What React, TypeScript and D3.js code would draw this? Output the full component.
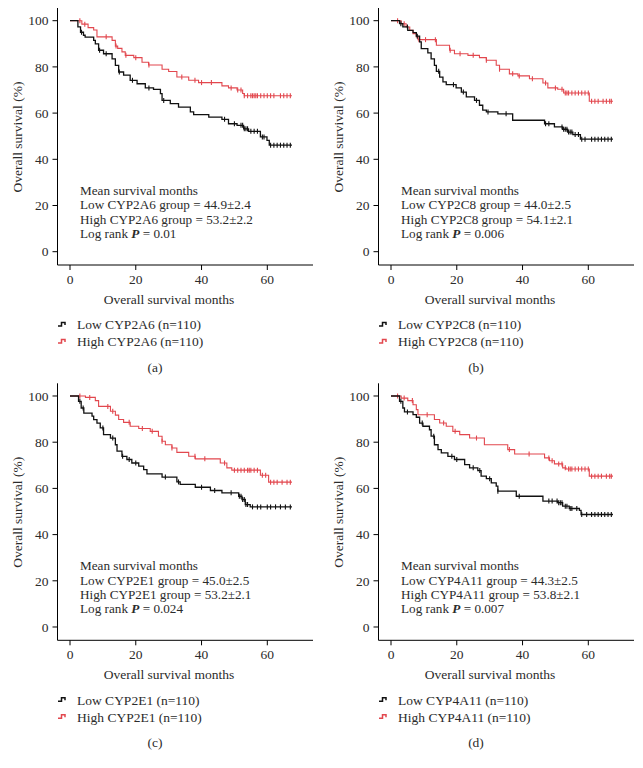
import { useEffect, useRef } from "react";
import * as d3 from "d3";

type Step = [number, number]; // [month, survival %] after a drop

const xTicks = [0, 20, 40, 60];
const yTicks = [0, 20, 40, 60, 80, 100];
const endMonth = 67.5;

// (a) CYP2A6
const lowA: Step[] = [[0, 100], [2.4, 97.3], [3.2, 95], [4.1, 93.7], [4.6, 92.9], [7.2, 91.5], [7.7, 90], [8.7, 87.2], [10.2, 85.7], [12.8, 83.5], [13.8, 80.7], [14.8, 77.8], [16.3, 76.4], [18.3, 74.2], [20.4, 72.7], [22.9, 70.9], [25.4, 70.3], [27.5, 68.4], [28, 65.5], [30.5, 64.1], [33, 62.6], [36.6, 60.5], [37.6, 59.3], [42.2, 58.3], [46.2, 57.3], [48.2, 55.4], [50.8, 54.7], [52.8, 53.2], [54.3, 52.1], [57.9, 49.7], [59.9, 48.2], [60.6, 46.1]];
const highA: Step[] = [[0, 100], [3.6, 98.5], [5.5, 97], [7.2, 96], [8.2, 93], [12.8, 91.5], [13.8, 89], [14.5, 88], [15.8, 86.5], [16.8, 85], [19.4, 84], [21.9, 82], [23.9, 80.8], [28, 79], [30, 78], [32.5, 75.6], [36.1, 74.2], [39.1, 73.2], [46.2, 71.8], [48.2, 70.9], [50.8, 70], [52.5, 68.5], [53, 67.5]];
const lowACensor = [3.5, 9, 11, 15, 19, 24, 28.5, 47, 50, 52, 52.5, 53, 53.5, 54, 55, 56, 57, 58.5, 59, 61, 62, 63, 64, 65, 66, 67];
const highACensor = [3, 4.5, 11, 14, 17, 20, 24, 34, 38, 40, 43, 49, 51, 52, 53, 54, 55, 55.5, 56, 56.5, 57, 58, 59, 60, 61, 62, 64, 65, 66, 67];

// (b) CYP2C8
const lowB: Step[] = [[0, 100], [2.6, 98.7], [3.6, 97.3], [5.1, 95.8], [6.7, 94.8], [7.7, 93.3], [8.7, 90.8], [9.2, 87.9], [11.2, 86.1], [12.2, 83.5], [13.2, 80.7], [13.8, 78.1], [14.8, 75.6], [15.8, 73.5], [16.8, 72.3], [19.8, 70.9], [21.4, 69.1], [22.9, 67], [25.4, 65.5], [26.9, 63.4], [27.9, 61.3], [29, 60.5], [32.5, 59.7], [37, 56.9], [46.7, 55.4], [49.7, 54], [52.2, 53], [53.7, 51.8], [55.3, 50.7], [57.6, 48.7]];
const highB: Step[] = [[0, 100], [3.1, 98.7], [4.6, 97.3], [5.7, 95.8], [6.7, 94.4], [7.7, 93], [8.2, 91.8], [13.8, 89.4], [17.8, 87.2], [19.3, 85.7], [23.4, 85], [26.9, 84], [29, 82.9], [32, 80.7], [33, 79], [36, 77], [38.6, 76.1], [42.1, 74.9], [46.2, 73], [47.7, 70.9], [50.7, 70.3], [52.5, 68.7], [60.3, 65.1]];
const lowBCensor = [3, 5, 8, 14.5, 19, 22, 26, 29.5, 35, 47, 48, 52, 52.5, 53, 53.5, 54, 54.5, 55, 56, 57, 58, 59, 61, 62, 63, 64, 65, 66, 67];
const highBCensor = [2, 4, 8.5, 10.5, 13.5, 18, 21, 25, 29, 33, 37, 39, 43, 47, 50, 52, 53, 53.5, 54, 55, 56, 57, 58, 59, 60, 61, 62, 63, 64.5, 65.5, 66.5, 67];

// (c) CYP2E1
const lowC: Step[] = [[0, 100], [2.6, 97.7], [3.4, 94.8], [4.2, 92.6], [6.7, 91.3], [7.2, 89.8], [8.2, 88.3], [9.2, 86.2], [10.2, 83.3], [12.3, 81.8], [13.8, 78.9], [14.3, 76.1], [15.8, 73.9], [17.3, 72.5], [18.8, 71], [20.9, 69.6], [22.4, 68.1], [23.4, 66.3], [28, 64.9], [32.5, 62.8], [33.5, 61.7], [38.1, 60.5], [42.7, 59.1], [46.2, 58.1], [51.3, 56.6], [52.3, 55.2], [53.3, 53], [54.8, 52]];
const highC: Step[] = [[0, 100], [4.7, 99.4], [7.7, 98], [8.7, 95.5], [12.3, 93.4], [13.8, 91.7], [14.8, 89.8], [16.3, 88.6], [18.3, 86.9], [20.9, 85.9], [24.4, 84.7], [26.9, 82.6], [28, 80.4], [29, 78.9], [31, 77.5], [32.5, 75.6], [36.1, 73.9], [38.1, 72.8], [45.7, 71], [47.7, 68.9], [49.2, 67.9], [57.9, 65.7], [60.4, 62.7]];
const lowCCensor = [3, 4, 10, 13, 16, 18, 20, 29, 33, 40, 44, 49, 51.5, 52, 52.5, 53, 53.5, 54, 55.5, 57, 58, 60, 61, 62.5, 64, 65.5, 67];
const highCCensor = [3, 6, 11.5, 13, 18, 22, 25, 28, 31, 38, 41, 47, 50, 51, 52, 53, 54, 54.5, 55, 56, 57, 58.5, 59.5, 61, 62, 63, 64.5, 66, 67];

// (d) CYP4A11
const lowD: Step[] = [[0, 100], [2.6, 97.7], [3.6, 94.8], [4.1, 93.1], [6.7, 91.9], [7.7, 90.8], [8.7, 88.3], [9.7, 86.9], [11.7, 85.4], [12.2, 82.6], [13.2, 78.9], [14.3, 76.8], [15.3, 75.4], [17.3, 73.9], [19.3, 72.5], [22.4, 70.3], [23.9, 68.9], [26.4, 67.7], [27.4, 65.3], [29, 64.2], [30.5, 62.4], [32, 61], [32.5, 58.8], [38.1, 56.6], [46.2, 54.5], [50.7, 53.8], [52.2, 52.3], [54.2, 51.3], [57.3, 50.5], [57.8, 48.7]];
const highD: Step[] = [[0, 100], [3.1, 99.1], [5.1, 98], [6.7, 96.2], [7.7, 94.1], [8.2, 91.9], [13.2, 89.8], [14.8, 88.3], [16.8, 86.9], [18.8, 84.7], [20.9, 83.3], [23.9, 81.8], [28.4, 78.9], [35.5, 76.8], [37.6, 74.9], [46.7, 73.2], [48.2, 72], [49.7, 70.6], [52.2, 68.9], [53.2, 68.4], [60.3, 65.3]];
const lowDCensor = [3, 5, 9.5, 13, 18.5, 20, 25, 27, 30, 32.5, 39, 48, 49, 50.5, 51, 51.5, 52, 53, 53.5, 54.5, 55, 56.5, 58, 59.5, 61, 62, 63, 64, 65, 66, 67];
const highDCensor = [2, 4, 6.5, 11, 16, 19.5, 26, 36, 42, 48, 49, 51, 52, 53, 54, 54.5, 55, 56, 57, 58, 59, 60, 61, 62, 63, 64, 65.5, 66.5, 67];

const geneNames = ["CYP2A6", "CYP2C8", "CYP2E1", "CYP4A11"];
const lowMeans = ["44.9±2.4", "44.0±2.5", "45.0±2.5", "44.3±2.5"];
const highMeans = ["53.2±2.2", "54.1±2.1", "53.2±2.1", "53.8±2.1"];
const pValues = ["0.01", "0.006", "0.024", "0.007"];
const captions = ["(a)", "(b)", "(c)", "(d)"];

const RED = "#e2474e";
const BLACK = "#111";
const TEXT = "#2b2b2b";
const FONT = "'Liberation Serif', 'Times New Roman', serif";

function survivalAt(steps: Step[], t: number) {
  let v = steps[0][1];
  for (const s of steps) if (s[0] <= t) v = s[1];
  return v;
}

type PanelProps = {
  dx: number;
  dy: number;
  idx: number;
  low: Step[];
  high: Step[];
  lowCensor: number[];
  highCensor: number[];
};

function Panel({ dx, dy, idx, low, high, lowCensor, highCensor }: PanelProps) {
  const x = d3.scaleLinear().domain([0, 60]).range([70, 267.3]);
  const y = d3.scaleLinear().domain([0, 100]).range([251.7, 20.7]);
  const axisY = 265;
  const axisX = 57.5;

  const line = d3
    .line<Step>()
    .x((d) => x(d[0]))
    .y((d) => y(d[1]))
    .curve(d3.curveStepAfter);

  const withEnd = (s: Step[]): Step[] => [...s, [endMonth, s[s.length - 1][1]]];

  const curves = [
    { steps: high, censor: highCensor, color: RED, w: 1.1 },
    { steps: low, censor: lowCensor, color: BLACK, w: 1.3 },
  ];

  const gene = geneNames[idx];

  return (
    <g transform={`translate(${dx},${dy})`} fontFamily={FONT} fill={TEXT}>
      {/* axes */}
      <line x1={axisX} x2={axisX} y1={8} y2={axisY} stroke="#000" strokeWidth={1} />
      <line x1={axisX} x2={313} y1={axisY} y2={axisY} stroke="#000" strokeWidth={1} />
      {yTicks.map((t) => (
        <g key={"y" + t}>
          <line x1={axisX - 5} x2={axisX} y1={y(t)} y2={y(t)} stroke="#000" />
          <text x={48.5} y={y(t)} dy="0.35em" textAnchor="end" fontSize={13.5}>
            {t}
          </text>
        </g>
      ))}
      {xTicks.map((t) => (
        <g key={"x" + t}>
          <line x1={x(t)} x2={x(t)} y1={axisY} y2={axisY + 5} stroke="#000" />
          <text x={x(t)} y={283.5} textAnchor="middle" fontSize={13.5}>
            {t}
          </text>
        </g>
      ))}
      <text x={169} y={303.5} textAnchor="middle" fontSize={13.5}>
        Overall survival months
      </text>
      <text
        transform={`translate(21.5,137) rotate(-90)`}
        textAnchor="middle"
        fontSize={13.5}
      >
        Overall survival (%)
      </text>

      {/* curves */}
      {curves.map((c, i) => (
        <g key={i}>
          <path d={line(withEnd(c.steps)) || ""} fill="none" stroke={c.color} strokeWidth={c.w} />
          {c.censor.map((t, j) => (
            <line
              key={j}
              x1={x(t)}
              x2={x(t)}
              y1={y(survivalAt(c.steps, t)) - 2.5}
              y2={y(survivalAt(c.steps, t)) + 2.5}
              stroke={c.color}
              strokeWidth={1.1}
            />
          ))}
        </g>
      ))}

      {/* annotation */}
      <g fontSize={13.2}>
        <text x={80} y={195}>Mean survival months</text>
        <text x={80} y={209.3}>{`Low ${gene} group = ${lowMeans[idx]}`}</text>
        <text x={80} y={223.6}>{`High ${gene} group = ${highMeans[idx]}`}</text>
        <text x={80} y={237.9}>
          Log rank <tspan fontWeight="bold" fontStyle="italic">P</tspan> = {pValues[idx]}
        </text>
      </g>

      {/* legend */}
      {[
        { label: `Low ${gene} (n=110)`, color: BLACK, yy: 324.5 },
        { label: `High ${gene} (n=110)`, color: RED, yy: 341.5 },
      ].map((l) => (
        <g key={l.label}>
          <path
            d={`M58,${l.yy + 1.5} H61.5 V${l.yy - 2} H65 V${l.yy + 0.5}`}
            fill="none"
            stroke={l.color}
            strokeWidth={1.5}
          />
          <text x={77} y={l.yy} dy="0.35em" fontSize={13.5}>
            {l.label}
          </text>
        </g>
      ))}

      <text x={155} y={367} dy="0.35em" textAnchor="middle" fontSize={13.5}>
        {captions[idx]}
      </text>
    </g>
  );
}

export default function App() {
  const svgRef = useRef<SVGSVGElement>(null);

  useEffect(() => {
    document.body.style.margin = "0"; // figure fills the window
  }, []);

  return (
    <svg
      ref={svgRef}
      width={643}
      height={768}
      style={{ display: "block", background: "#fff" }}
    >
      <Panel dx={0} dy={0} idx={0} low={lowA} high={highA} lowCensor={lowACensor} highCensor={highACensor} />
      <Panel dx={321} dy={0} idx={1} low={lowB} high={highB} lowCensor={lowBCensor} highCensor={highBCensor} />
      <Panel dx={0} dy={375.3} idx={2} low={lowC} high={highC} lowCensor={lowCCensor} highCensor={highCCensor} />
      <Panel dx={321} dy={375.3} idx={3} low={lowD} high={highD} lowCensor={lowDCensor} highCensor={highDCensor} />
    </svg>
  );
}
